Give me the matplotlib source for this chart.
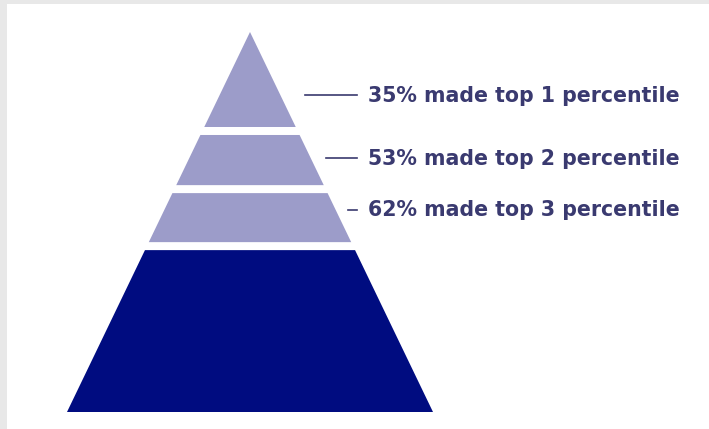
import matplotlib
matplotlib.use("Agg")
import matplotlib.pyplot as plt
from matplotlib.patches import Polygon, Rectangle

# tiers of the pyramid, top to bottom (fraction of pyramid height)
tier_top = [0.0, 0.271, 0.424, 0.574]
tier_bottom = [0.250, 0.403, 0.553, 1.0]
tier_colors = ["#9c9cc9", "#9c9cc9", "#9c9cc9", "#000c80"]

# callouts
pct = [35, 53, 62]
rank = [1, 2, 3]
label_pos = [0.166, 0.332, 0.468]
line_start = [305, 326, 348]

W, H = 709, 429
apex_x, apex_y = 250, 32
base_y = 412
half_base = 183

fig = plt.figure(figsize=(W / 100, H / 100), dpi=100)
ax = fig.add_axes([0, 0, 1, 1])
ax.set_xlim(0, W)
ax.set_ylim(H, 0)
ax.axis("off")

# grey frame top and left
ax.add_patch(Rectangle((0, 0), W, 4, color="#e8e8e8", lw=0))
ax.add_patch(Rectangle((0, 0), 7, H, color="#e8e8e8", lw=0))

ph = base_y - apex_y
for t, b, c in zip(tier_top, tier_bottom, tier_colors):
    yt = apex_y + t * ph
    yb = apex_y + b * ph
    wt = half_base * t
    wb = half_base * b
    pts = [(apex_x - wt, yt), (apex_x + wt, yt), (apex_x + wb, yb), (apex_x - wb, yb)]
    ax.add_patch(Polygon(pts, closed=True, color=c, lw=0))

for p, r, f, x0 in zip(pct, rank, label_pos, line_start):
    y = apex_y + f * ph
    ax.plot([x0, 357], [y, y], color="#3a3a6e", lw=1.2)
    ax.text(368, y + 0.5, f"{p}% made top {r} percentile", fontsize=14.8,
            family="DejaVu Sans", fontweight="bold", color="#3a3a70",
            va="center", ha="left")

fig.savefig("out.png", dpi=100)
